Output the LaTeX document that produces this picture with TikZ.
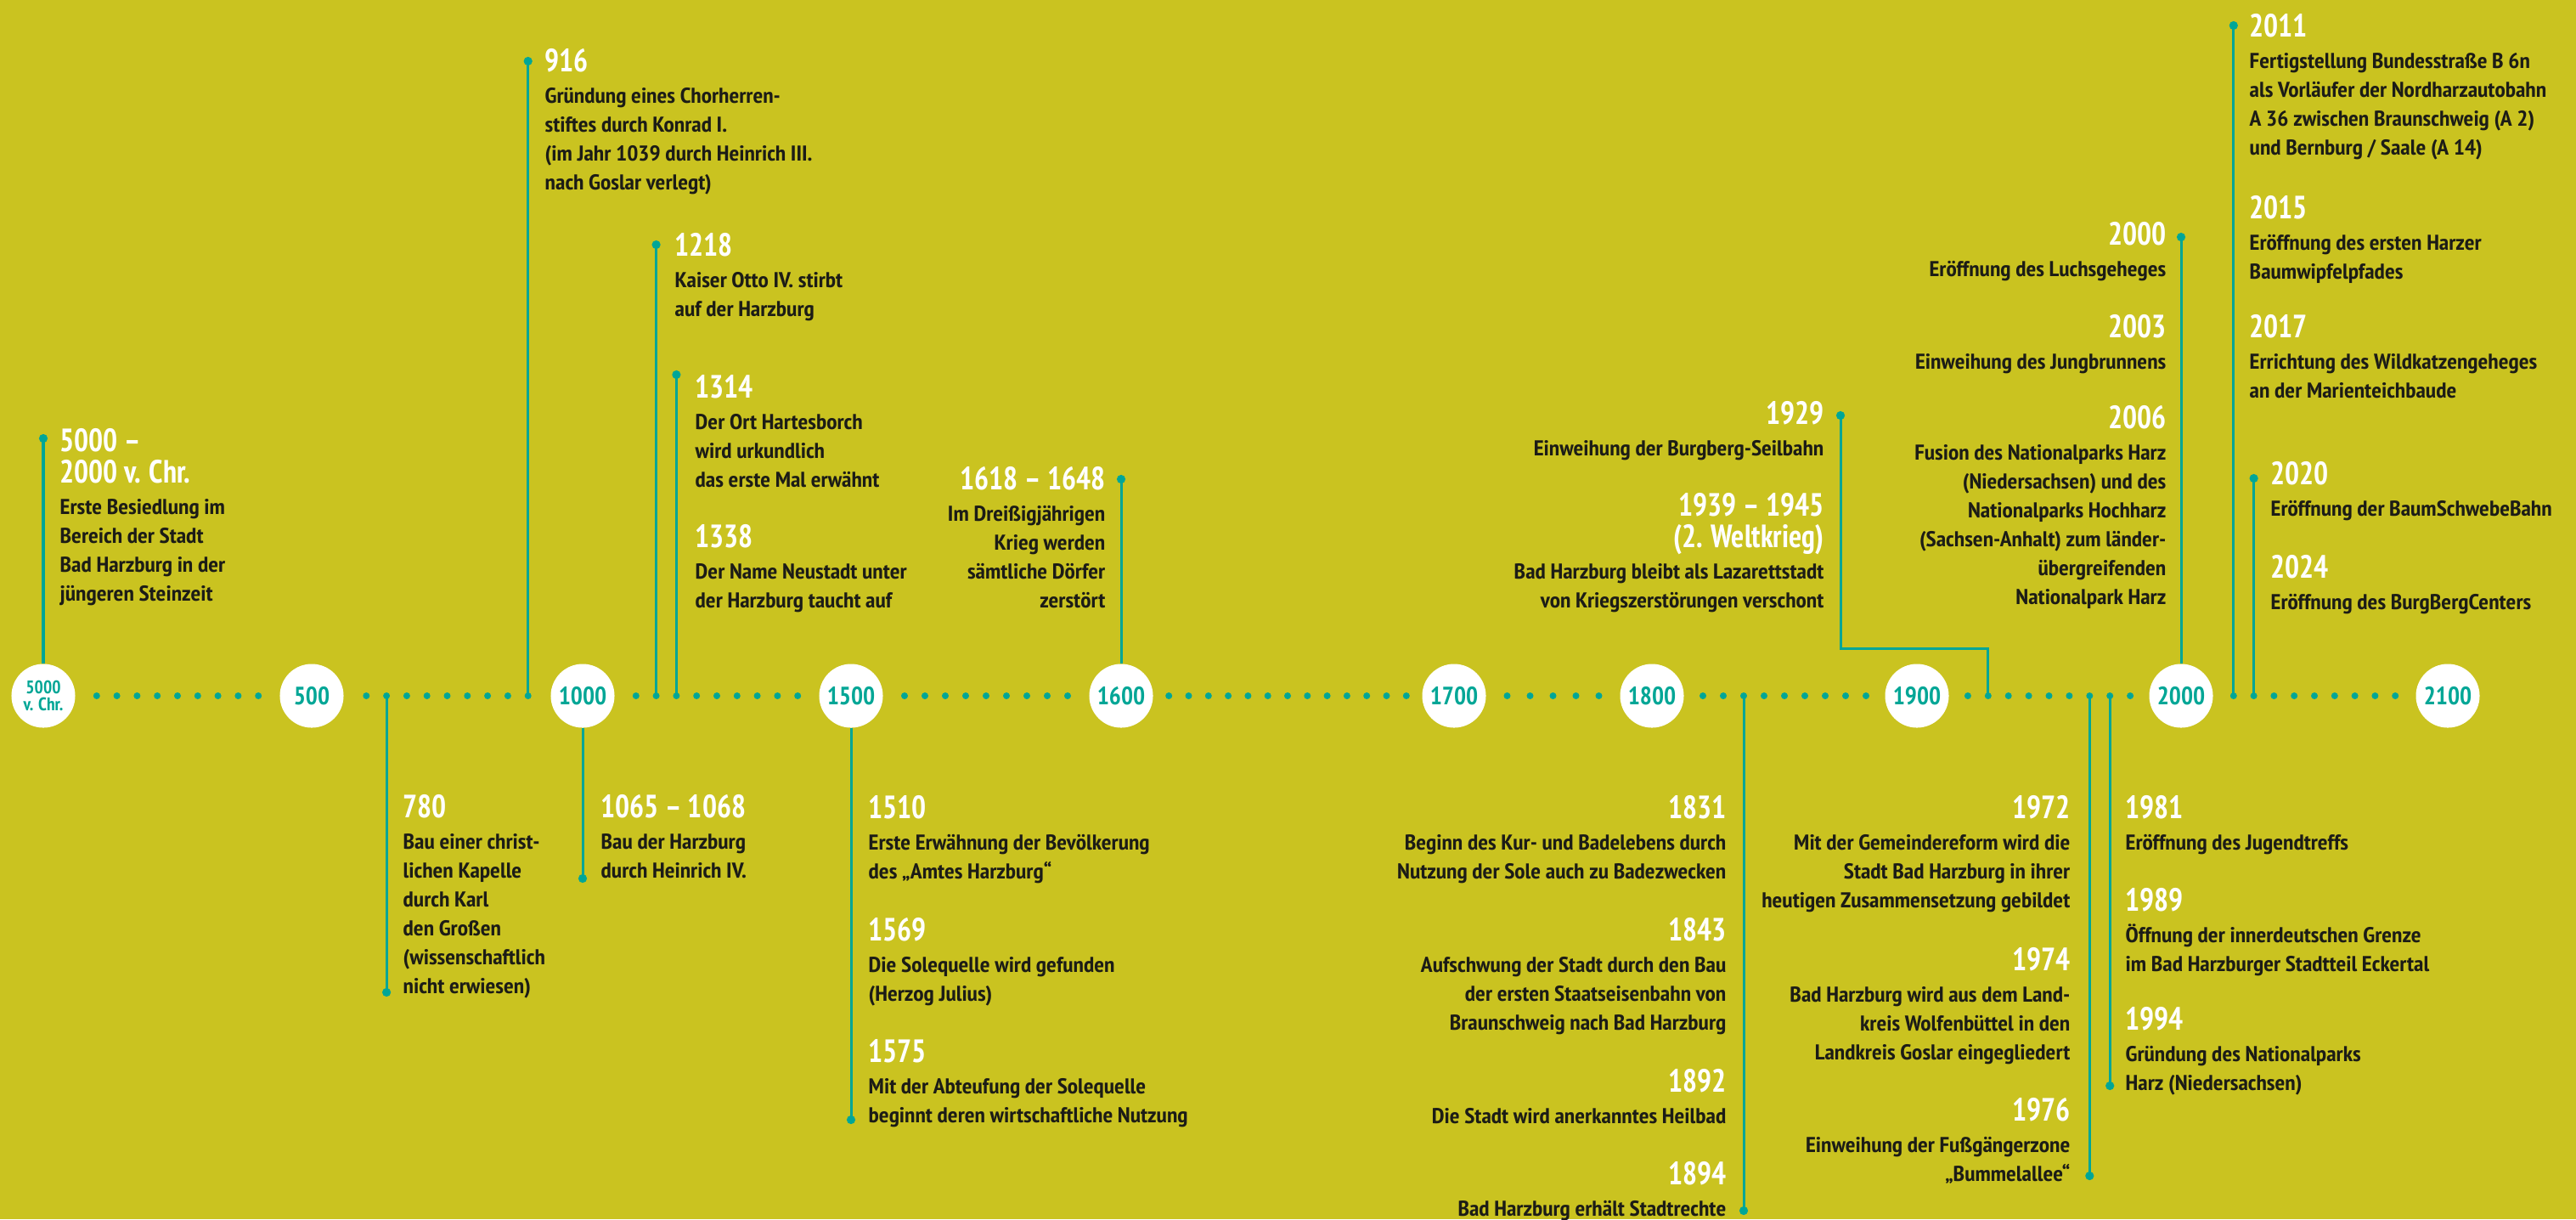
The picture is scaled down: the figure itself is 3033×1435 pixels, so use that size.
\documentclass[tikz,border=0pt]{standalone}
\usepackage{fontspec}
\setmainfont{PT Sans Narrow}
\newfontfamily\txtfont{PT Sans Narrow}[FakeStretch=1.09]
\newfontfamily\hdfont{PT Sans Narrow}[FakeStretch=0.94]
\usetikzlibrary{calc,positioning,arrows.meta}
\definecolor{bg}{RGB}{202,195,32}
\definecolor{tl}{RGB}{0,166,150}
\definecolor{ink}{RGB}{28,28,22}
% year heading inside an event node
\newcommand{\yr}[1]{{\hdfont\fontsize{10.8}{10.8}\selectfont\bfseries\color{white}#1}\\[0.8pt]}
\tikzset{
  ev/.style={anchor=north west, align=left, inner sep=0pt, text=ink,
    font=\txtfont\fontsize{7.2}{9.67}\selectfont\bfseries},
  evr/.style={ev, anchor=north east, align=right},
  yrc/.style={circle, fill=white, minimum size=0.75cm, inner sep=0pt, text=tl,
    font=\fontsize{8.4}{8.4}\selectfont\bfseries},
  dot/.style={circle, fill=tl, minimum size=0.08cm, inner sep=0pt},
  stem/.style={draw=tl, line width=0.03cm, {Circle[length=0.1cm]}-}
}
\begin{document}
\begin{tikzpicture}[x=0.01cm, y=-0.01cm]
  \fill[bg] (0,0) rectangle (3033,1435);
  \useasboundingbox (0,0) rectangle (3033,1435);
  \def \axis {819}

  % centuries
  \node[yrc, font=\fontsize{6.1}{5.6}\selectfont\bfseries, align=center] (c5000) at (51,\axis) {5000\\v. Chr.};
  \foreach \nm/\x in {500/367, 1000/686, 1500/1002, 1600/1320, 1700/1712,
                      1800/1945, 1900/2257, 2000/2568, 2100/2882}
    \node[yrc] (c\nm) at (\x,\axis) {\nm};

  % dotted axis
  \foreach \a/\b/\n/\sp [count=\s] in {c5000/c500/9/23.8, c500/c1000/9/23.8,
      c1000/c1500/9/23.8, c1500/c1600/9/24, c1600/c1700/13/23.3,
      c1700/c1800/5/27, c1800/c1900/9/24, c1900/c2000/9/23.9, c2000/c2100/9/23.8}
    \foreach \i in {1,...,\n}
      \path ($(\a)!.5!(\b)$) ++({(\i-(\n+1)/2)*\sp},0) node[dot] (d\s-\i) {};

  % stem ends
  \coordinate (p5000) at (c5000 |- 0,511);
  \coordinate (p916)  at (d2-9 |- 0,67);
  \coordinate (p1218) at (d3-2 |- 0,283);
  \coordinate (p1314) at (d3-3 |- 0,436);
  \coordinate (p1618) at (c1600 |- 0,559);
  \coordinate (p1929) at (2167,484);
  \coordinate (p2000) at (c2000 |- 0,274);
  \coordinate (p2011) at (d9-1 |- 0,25);
  \coordinate (p2020) at (d9-2 |- 0,558);
  \coordinate (p780)  at (d2-2 |- 0,1173);
  \coordinate (p1065) at (c1000 |- 0,1039);
  \coordinate (p1510) at (c1500 |- 0,1323);
  \coordinate (p1831) at (d7-3 |- 0,1430);
  \coordinate (p1972) at (d8-7 |- 0,1389);
  \coordinate (p1981) at (d8-8 |- 0,1283);

  \draw[stem] (p5000) -- (c5000);
  \draw[stem] (p916) -- (d2-9.center);
  \draw[stem] (p1218) -- (d3-2.center);
  \draw[stem] (p1314) -- (d3-3.center);
  \draw[stem] (p1618) -- (c1600);
  \draw[stem] (p1929) -- ++(0,279) -| (d8-2.center);
  \draw[stem] (p2000) -- (c2000);
  \draw[stem] (p2011) -- (d9-1.center);
  \draw[stem] (p2020) -- (d9-2.center);
  \draw[stem] (p780) -- (d2-2.center);
  \draw[stem] (p1065) -- (c1000);
  \draw[stem] (p1510) -- (c1500);
  \draw[stem] (p1831) -- (d7-3.center);
  \draw[stem] (p1972) -- (d8-7.center);
  \draw[stem] (p1981) -- (d8-8.center);

  % events above the axis
  \node[ev] (e5000) at (70,504) {\yr{5000 –}\yr{2000 v. Chr.}Erste Besiedlung im\\Bereich der Stadt\\Bad Harzburg in der\\jüngeren Steinzeit};
  \node[ev] (e916) at (641,57) {\yr{916}Gründung eines Chorherren-\\stiftes durch Konrad I.\\(im Jahr 1039 durch Heinrich III.\\nach Goslar verlegt)};
  \node[ev] (e1218) at (794,274) {\yr{1218}Kaiser Otto IV. stirbt\\auf der Harzburg};
  \node[ev] (e1314) at (818,441) {\yr{1314}Der Ort Hartesborch\\wird urkundlich\\das erste Mal erwähnt};
  \node[ev] (e1338) at (818,617) {\yr{1338}Der Name Neustadt unter\\der Harzburg taucht auf};
  \node[evr] (e1618) at (1302,549) {\yr{1618 – 1648}Im Dreißigjährigen\\Krieg werden\\sämtliche Dörfer\\zerstört};
  \node[evr] (e1929) at (2148,472) {\yr{1929}Einweihung der Burgberg-Seilbahn};
  \node[evr] (e1939) at (2148,580) {\yr{1939 – 1945}\yr{(2. Weltkrieg)}Bad Harzburg bleibt als Lazarettstadt\\von Kriegszerstörungen verschont};
  \node[evr] (e2000) at (2551,261) {\yr{2000}Eröffnung des Luchsgeheges};
  \node[evr] (e2003) at (2551,370) {\yr{2003}Einweihung des Jungbrunnens};
  \node[evr] (e2006) at (2551,477) {\yr{2006}Fusion des Nationalparks Harz\\(Niedersachsen) und des\\Nationalparks Hochharz\\(Sachsen-Anhalt) zum länder-\\übergreifenden\\Nationalpark Harz};
  \node[ev] (e2011) at (2648,16) {\yr{2011}Fertigstellung Bundesstraße B 6n\\als Vorläufer der Nordharzautobahn\\A 36 zwischen Braunschweig (A 2)\\und Bernburg / Saale (A 14)};
  \node[ev] (e2015) at (2648,230) {\yr{2015}Eröffnung des ersten Harzer\\Baumwipfelpfades};
  \node[ev] (e2017) at (2648,370) {\yr{2017}Errichtung des Wildkatzengeheges\\an der Marienteichbaude};
  \node[ev] (e2020) at (2673,543) {\yr{2020}Eröffnung der BaumSchwebeBahn};
  \node[ev] (e2024) at (2673,653) {\yr{2024}Eröffnung des BurgBergCenters};

  % events below the axis
  \node[ev] (e780) at (474,935) {\yr{780}Bau einer christ-\\lichen Kapelle\\durch Karl\\den Großen\\(wissenschaftlich\\nicht erwiesen)};
  \node[ev] (e1065) at (707,935) {\yr{1065 – 1068}Bau der Harzburg\\durch Heinrich IV.};
  \node[ev] (e1510) at (1022,936) {\yr{1510}Erste Erwähnung der Bevölkerung\\des „Amtes Harzburg“};
  \node[ev] (e1569) at (1022,1080) {\yr{1569}Die Solequelle wird gefunden\\(Herzog Julius)};
  \node[ev] (e1575) at (1022,1223) {\yr{1575}Mit der Abteufung der Solequelle\\beginnt deren wirtschaftliche Nutzung};
  \node[evr] (e1831) at (2033,936) {\yr{1831}Beginn des Kur- und Badelebens durch\\Nutzung der Sole auch zu Badezwecken};
  \node[evr] (e1843) at (2033,1080) {\yr{1843}Aufschwung der Stadt durch den Bau\\der ersten Staatseisenbahn von\\Braunschweig nach Bad Harzburg};
  \node[evr] (e1892) at (2033,1258) {\yr{1892}Die Stadt wird anerkanntes Heilbad};
  \node[evr] (e1894) at (2033,1367) {\yr{1894}Bad Harzburg erhält Stadtrechte};
  \node[evr] (e1972) at (2438,936) {\yr{1972}Mit der Gemeindereform wird die\\Stadt Bad Harzburg in ihrer\\heutigen Zusammensetzung gebildet};
  \node[evr] (e1974) at (2438,1115) {\yr{1974}Bad Harzburg wird aus dem Land-\\kreis Wolfenbüttel in den\\Landkreis Goslar eingegliedert};
  \node[evr] (e1976) at (2438,1292) {\yr{1976}Einweihung der Fußgängerzone\\„Bummelallee“};
  \node[ev] (e1981) at (2502,936) {\yr{1981}Eröffnung des Jugendtreffs};
  \node[ev] (e1989) at (2502,1045) {\yr{1989}Öffnung der innerdeutschen Grenze\\im Bad Harzburger Stadtteil Eckertal};
  \node[ev] (e1994) at (2502,1185) {\yr{1994}Gründung des Nationalparks\\Harz (Niedersachsen)};
\end{tikzpicture}
\end{document}
